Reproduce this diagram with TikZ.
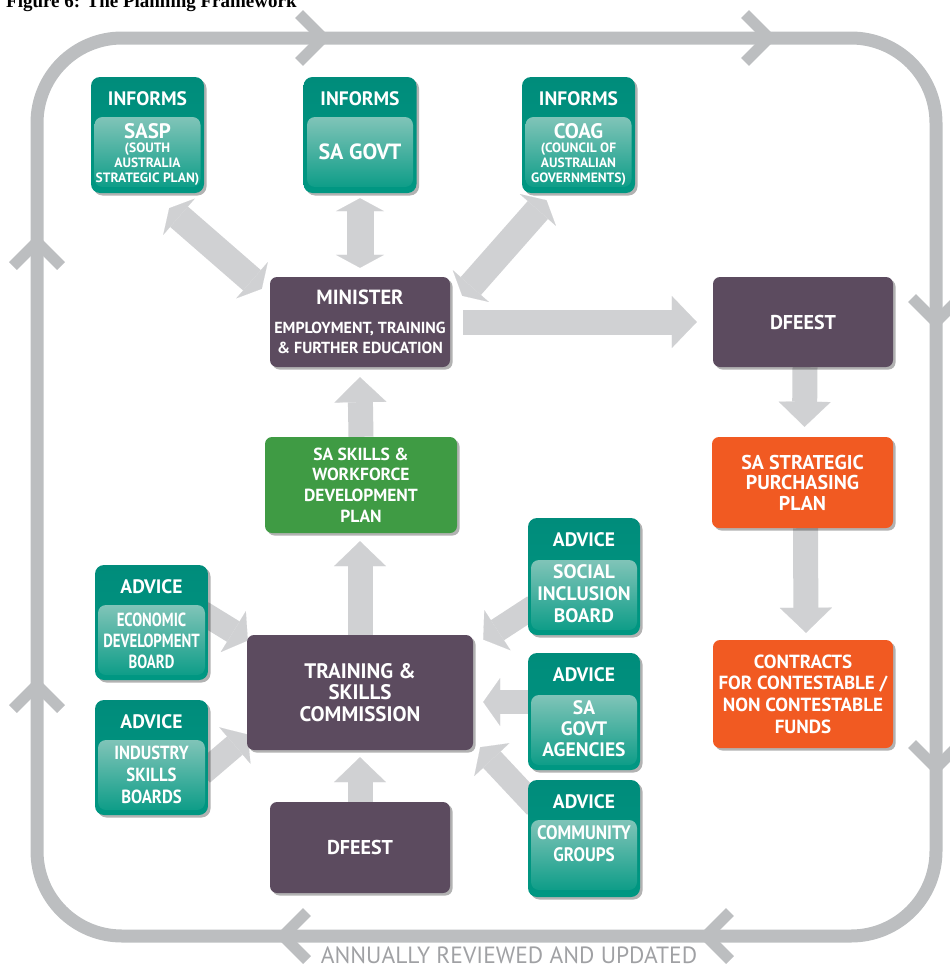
\documentclass[tikz,border=0pt]{standalone}
\usepackage{fontspec}
\setmainfont{PT Sans}
\newfontfamily\condfont{PT Sans}[FakeStretch=0.78]
\newfontfamily\semifont{PT Sans}[FakeStretch=0.88]
\newfontfamily\titlefont{Liberation Serif}
\usetikzlibrary{arrows.meta,shadows,calc}
\pgfdeclarelayer{bg}
\pgfsetlayers{bg,main}
\definecolor{purp}{HTML}{5C4B5F}
\definecolor{grn}{HTML}{3F9B44}
\definecolor{orng}{HTML}{F15A22}
\definecolor{tealA}{HTML}{008C7B}
\definecolor{tealB}{HTML}{009782}
\definecolor{tealinA}{HTML}{80C4B8}
\definecolor{tealinB}{HTML}{0E9D88}
\definecolor{arrgray}{HTML}{D0D1D3}
\definecolor{loopgray}{HTML}{BCBEC0}
\definecolor{txtgray}{HTML}{A0A1A4}
\newcommand\myfs[2]{\fontsize{#1}{#2}\selectfont}
\begin{document}
\begin{tikzpicture}[x=1pt,y=-1pt,
  shad/.style={drop shadow={shadow xshift=2.5pt,shadow yshift=-2.5pt,opacity=0.3,fill=black}},
  solidbox/.style={rounded corners=7pt,text=white,align=center,inner sep=0pt,shad},
  purpbox/.style={solidbox,fill=purp},
  grnbox/.style={solidbox,fill=grn},
  orngbox/.style={solidbox,fill=orng},
  tealout/.style={rounded corners=9pt,top color=tealA,bottom color=tealB,minimum width=113pt,minimum height=116pt,inner sep=0pt,shad},
  tealin/.style={rounded corners=8pt,top color=tealinA,bottom color=tealinB,minimum width=106pt,minimum height=70pt,inner sep=0pt},
  head/.style={text=white,inner sep=0pt,font=\bfseries\myfs{19.5}{19.5}},
  body/.style={text=white,align=center,inner sep=0pt,font=\bfseries\myfs{19}{21.5}},
  bigarrow/.style={draw=arrgray,line width=25pt,-{Triangle[length=25pt,width=52pt,line width=0.1pt]}},
  dblarrow/.style={draw=arrgray,line width=27pt,{Triangle[length=13pt,width=48pt,line width=0.1pt]}-{Triangle[length=13pt,width=48pt,line width=0.1pt]}},
  advarrow/.style={draw=arrgray,line width=24pt,-{Triangle[length=17pt,width=48pt,line width=0.1pt]}},
  chev/.style={draw=loopgray,line width=11pt},
]
\useasboundingbox (0,0) rectangle (950,969);
\clip (0,0) rectangle (950,969);

% title (cut off at the top)
\node[anchor=base west,inner sep=0pt,font=\titlefont\bfseries\myfs{19}{19}] (title) at (6,7) {Figure 6: The Planning Framework};

% review loop
\draw[line width=13pt,loopgray,rounded corners=85pt] (37,38) rectangle (936,936);
\draw[chev] (299,14) -- (323,38) -- (299,62);
\draw[chev] (745,14) -- (769,38) -- (745,62);
\draw[chev] (912,298) -- (936,322) -- (960,298);
\draw[chev] (912,744) -- (936,768) -- (960,744);
\draw[chev] (307,912) -- (283,936) -- (307,960);
\draw[chev] (730,912) -- (706,936) -- (730,960);
\draw[chev] (13,266) -- (37,242) -- (61,266);
\draw[chev] (13,709) -- (37,685) -- (61,709);
\node[anchor=base,inner sep=0pt,text=txtgray,font=\myfs{23.5}{23.5}] (annual) at (509,963) {ANNUALLY REVIEWED AND UPDATED};

% ---------- solid boxes ----------
\node[purpbox,minimum width=180pt,minimum height=90pt] (min) at (360,322) {};
\node[body,font=\bfseries\myfs{20.5}{20.5}] (min-t) at (360,297) {MINISTER};
\node[body,font=\bfseries\myfs{16}{20}] (min-s) at (360,338) {EMPLOYMENT, TRAINING\\\& FURTHER EDUCATION};
\node[purpbox,minimum width=180pt,minimum height=90pt,font=\bfseries\myfs{20}{20}] (dfr) at (803,322) {DFEEST};
\node[orngbox,minimum width=181pt,minimum height=91pt,font=\bfseries\myfs{20}{20.5}] (strat) at (802.5,482.5) {SA STRATEGIC\\PURCHASING\\PLAN};
\node[orngbox,minimum width=180pt,minimum height=108pt,font=\bfseries\myfs{19}{21.7}] (contr) at (803,694) {CONTRACTS\\FOR CONTESTABLE /\\NON CONTESTABLE\\FUNDS};
\node[grnbox,minimum width=192pt,minimum height=96pt,font=\bfseries\myfs{17.5}{20.7}] (green) at (361,485) {SA SKILLS \&\\WORKFORCE\\DEVELOPMENT\\PLAN};
\node[purpbox,minimum width=226pt,minimum height=115pt,font=\bfseries\myfs{21}{21.5}] (tsc) at (360,692.5) {TRAINING \&\\SKILLS\\COMMISSION};
\node[purpbox,minimum width=180pt,minimum height=91pt,font=\bfseries\myfs{20}{20}] (dfb) at (360,847.5) {DFEEST};

% ---------- INFORMS boxes ----------
\node[tealout] (sasp) at (147.5,135) {};
\node[head] (sasp-h) at (147.5,99) {INFORMS};
\node[tealin] (sasp-in) at (147.5,152) {};
\node[body,font=\bfseries\myfs{21}{21}] (sasp-t) at (147.5,131) {SASP};
\node[body,font=\bfseries\myfs{13.5}{15}] (sasp-s) at (147.5,164) {(SOUTH\\AUSTRALIA\\STRATEGIC PLAN)};

\node[tealout] (sag) at (360,135) {};
\node[head] (sag-h) at (360,99) {INFORMS};
\node[tealin] (sag-in) at (360,152) {};
\node[body,font=\bfseries\myfs{22}{22}] (sag-t) at (360,152) {SA GOVT};

\node[tealout] (coag) at (578.5,135) {};
\node[head] (coag-h) at (578.5,99) {INFORMS};
\node[tealin] (coag-in) at (578.5,152) {};
\node[body,font=\bfseries\myfs{21}{21}] (coag-t) at (578.5,131) {COAG};
\node[body,font=\bfseries\myfs{13.5}{15}] (coag-s) at (578.5,164) {(COUNCIL OF\\AUSTRALIAN\\GOVERNMENTS)};

% ---------- ADVICE boxes ----------
\node[tealout,minimum height=115pt] (econ) at (151.5,622.5) {};
\node[head] (econ-h) at (151.5,587) {ADVICE};
\node[tealin,minimum width=107pt] (econ-in) at (151.5,640) {};
\node[body,font=\condfont\bfseries\myfs{19}{21}] (econ-t) at (151.5,641) {ECONOMIC\\DEVELOPMENT\\BOARD};

\node[tealout,minimum height=115pt] (ind) at (151.5,757.5) {};
\node[head] (ind-h) at (151.5,722) {ADVICE};
\node[tealin,minimum width=107pt] (ind-in) at (151.5,775) {};
\node[body,font=\semifont\bfseries\myfs{19}{22}] (ind-t) at (151.5,775) {INDUSTRY\\SKILLS\\BOARDS};

\node[tealout,minimum width=112pt,minimum height=117pt] (soc) at (584,576.5) {};
\node[head] (soc-h) at (584,540) {ADVICE};
\node[tealin] (soc-in) at (584,595) {};
\node[body,font=\bfseries\myfs{19.5}{22}] (soc-t) at (584,594) {SOCIAL\\INCLUSION\\BOARD};

\node[tealout,minimum width=112pt,minimum height=117pt] (saga) at (584,711.5) {};
\node[head] (saga-h) at (584,675) {ADVICE};
\node[tealin] (saga-in) at (584,730) {};
\node[body,font=\bfseries\myfs{19.5}{21}] (saga-t) at (584,729) {SA\\GOVT\\AGENCIES};

\node[tealout,minimum width=112pt,minimum height=117pt] (comm) at (584,838.5) {};
\node[head] (comm-h) at (584,802) {ADVICE};
\node[tealin] (comm-in) at (584,855) {};
\node[body,font=\semifont\bfseries\myfs{19.5}{22}] (comm-t) at (584,844) {COMMUNITY\\GROUPS};

% ---------- arrows (behind boxes) ----------
\begin{pgfonlayer}{bg}
\draw[bigarrow] ($(min.east)+(13,0)$) -- ($(dfr.west)+(-16,0)$);
\draw[bigarrow] ($(dfr.south)+(2,0)$) -- ($(strat.north)+(2,-10)$);
\draw[bigarrow] ($(strat.south)+(3,0)$) -- ($(contr.north)+(3,-7)$);
\draw[bigarrow] (tsc.north) -- ($(green.south)+(-1,8)$);
\draw[bigarrow] (green.north) -- ($(min.south)+(0,10)$);
\draw[bigarrow] (dfb.north) -- ($(tsc.south)+(0,7)$);
\draw[dblarrow] ($(sag.south)+(0,5)$) -- ($(min.north)+(0,-9)$);
\draw[dblarrow] ($(sasp.south east)+(-35,15)$) -- ($(min.north west)+(-8,12)$);
\draw[dblarrow] ($(min.north east)+(12,19)$) -- ($(coag.south)+(-32,7)$);
\draw[advarrow] ($(econ.east)+(-6,-10)$) -- ($(tsc.west)+(1,-52)$);
\draw[advarrow] ($(ind.east)+(-6,16)$) -- ($(tsc.west)+(1,42)$);
\draw[advarrow] ($(soc.west)+(6,30)$) -- ($(tsc.east)+(10,-53)$);
\draw[advarrow] ($(saga.west)+(6,-9.5)$) -- ($(tsc.east)+(10,9.5)$);
\draw[advarrow] ($(comm.west)+(8,-32)$) -- ($(tsc.south east)+(7,-3)$);
\end{pgfonlayer}
\end{tikzpicture}
\end{document}
